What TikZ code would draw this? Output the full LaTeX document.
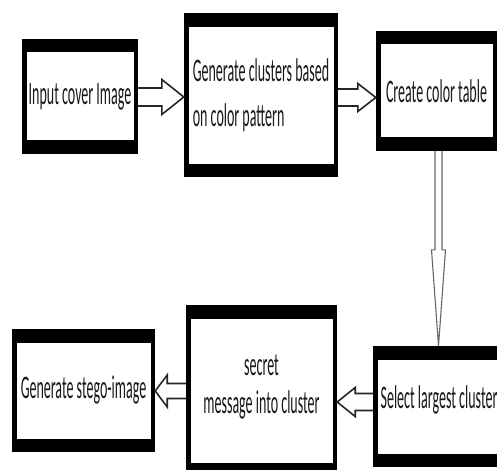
\documentclass[tikz,border=0pt]{standalone}
\usepackage{fontspec}
\usepackage{graphicx}
\usetikzlibrary{calc}
\setmainfont{Carlito}
% tall, narrow lettering of the stage labels
\newcommand\talltext[1]{\scalebox{1}[2.35]{#1}}

% hollow block arrow: #2 tail, #3 tip, #4 shaft half width, #5 head half width, #6 head length
\newcommand\hollowarrow[6][]{%
  \coordinate (hb) at ($(#3)!#6!(#2)$);
  \draw[arrowline,#1] ($(#2)!#4!90:(#3)$) -- ($(hb)!#4!90:(#3)$) -- ($(hb)!#5!90:(#3)$)
    -- (#3) -- ($(hb)!#5!-90:(#3)$) -- ($(hb)!#4!-90:(#3)$) -- ($(#2)!#4!-90:(#3)$);
}

\tikzset{
  stage/.style={fill=black, draw=none, inner sep=0pt, text=black!90,
    font=\fontsize{14}{17}\selectfont,
    path picture={\fill[white]
      ($(path picture bounding box.south west)+(4.5pt,13.5pt)$) rectangle
      ($(path picture bounding box.north east)+(-4.5pt,-13.5pt)$);}},
  arrowline/.style={draw=black!85, line width=1.6pt, fill=white, line join=miter},
  thinline/.style={draw=black!60, line width=1.1pt},
}

\begin{document}
\begin{tikzpicture}[x=1pt, y=-1pt]
\useasboundingbox (0,0) rectangle (497,470);
\clip (0,0) rectangle (497,470);
\fill[white] (0,0) rectangle (497,470);

% processing stages
\node[stage, minimum width=116pt, minimum height=115pt] (b1) at (80,96.5)
      {\talltext{Input cover Image}};
\node[stage, minimum width=154pt, minimum height=164pt,
      font=\fontsize{14}{19.15}\selectfont] (b2) at (261,95.5)
      {\talltext{\begin{tabular}{@{}l@{}}Generate clusters based\\on color pattern\end{tabular}}};
\node[stage, minimum width=121pt, minimum height=120pt] (b3) at (436.5,91)
      {\talltext{Create color table}};
\node[stage, minimum width=132pt, minimum height=121pt, text height=24pt, text depth=20pt]
      (b6) at (439,406.5) {\talltext{Select largest cluster}};
\node[stage, minimum width=151pt, minimum height=171pt, text height=26.6pt, text depth=57.4pt,
      font=\fontsize{14}{16.17}\selectfont] (b5) at (261.5,390.5)
      {\talltext{\begin{tabular}[t]{@{}c@{}}secret\\message into cluster\end{tabular}}\hspace{22pt}};
\node[stage, minimum width=143pt, minimum height=123pt] (b4) at (83.5,390.5)
      {\talltext{Generate stego-image}};

% connectors
\coordinate (t12) at (b1.east |- 0,97);
\coordinate (h12) at (b2.west |- 0,97);
\hollowarrow{t12}{h12}{9pt}{17.5pt}{22pt}

\coordinate (t23) at (b2.east |- 0,97.5);
\coordinate (h23) at (b3.west |- 0,97.5);
\hollowarrow{t23}{h23}{8.5pt}{14pt}{18pt}

\coordinate (t36) at (438.5,0 |- b3.south);
\coordinate (h36) at (438.5,0 |- b6.north);
\hollowarrow[thinline]{t36}{h36}{3.5pt}{7pt}{96pt}

\coordinate (t65) at (b6.west |- 0,402);
\coordinate (h65) at (b5.east |- 0,402);
\hollowarrow{t65}{h65}{8.5pt}{14.5pt}{18pt}

\coordinate (t54) at (b5.west |- 0,391);
\coordinate (h54) at (b4.east |- 0,391);
\hollowarrow{t54}{h54}{7.5pt}{16pt}{12pt}
\end{tikzpicture}
\end{document}
